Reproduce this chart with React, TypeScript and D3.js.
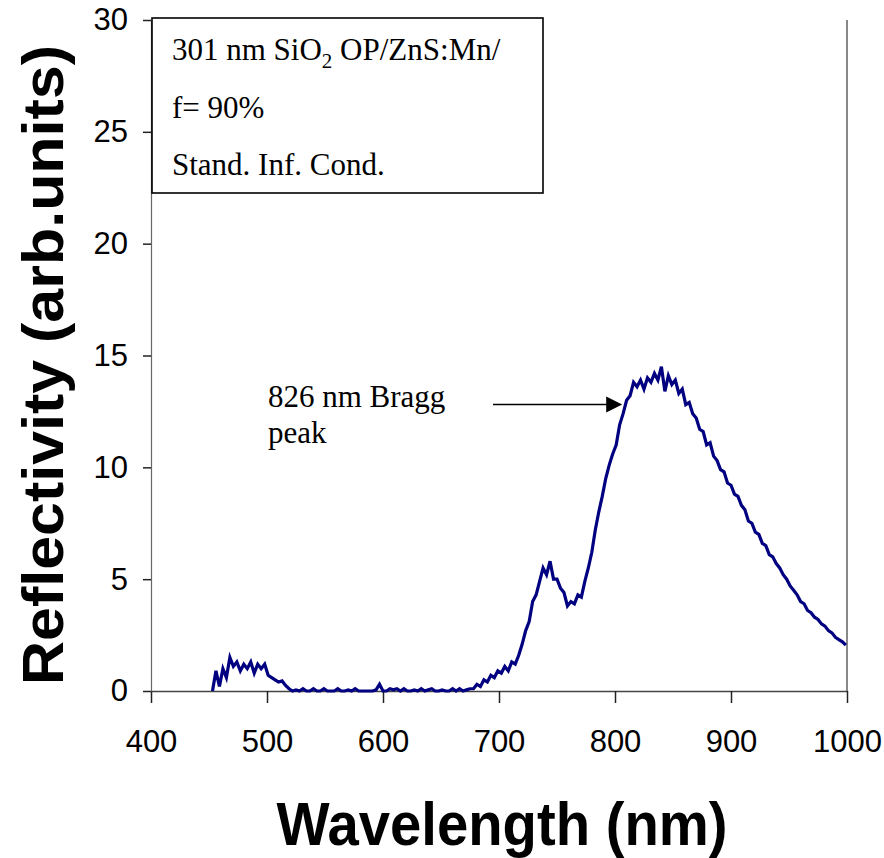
import { useEffect, useRef } from 'react';
import * as d3 from 'd3';

// reflectivity, one value every 3 nm starting at 453 nm
const startNm = 453;
const stepNm = 3;
const reflectivity = [
  0.0, 0.9, 0.2, 1.0, 0.6, 1.5, 1.1, 1.3, 0.9, 1.2,
  1.0, 1.3, 0.8, 1.2, 1.0, 1.2, 0.7, 0.6, 0.5, 0.4,
  0.45, 0.25, 0.1, 0.0, 0.05, 0.0, 0.1, 0.0, 0.0, 0.1,
  0.0, 0.0, 0.1, 0.0, 0.0, 0.0, 0.1, 0.0, 0.0, 0.05,
  0.0, 0.1, 0.0, 0.0, 0.0, 0.0, 0.0, 0.05, 0.3, 0.0,
  0.0, 0.1, 0.05, 0.1, 0.0, 0.1, 0.0, 0.0, 0.05, 0.0,
  0.1, 0.0, 0.05, 0.1, 0.0, 0.0, 0.05, 0.0, 0.0, 0.1,
  0.0, 0.1, 0.0, 0.05, 0.1, 0.1, 0.3, 0.2, 0.5, 0.4,
  0.7, 0.6, 0.9, 0.8, 1.1, 0.9, 1.3, 1.2, 1.6, 2.1,
  2.7, 3.1, 4.0, 4.3, 4.9, 5.5, 5.2, 5.8, 5.0, 5.0,
  4.6, 4.4, 3.8, 4.0, 3.9, 4.3, 4.2, 4.9, 5.5, 6.2,
  7.2, 8.0, 8.7, 9.5, 10.1, 10.6, 11.0, 11.9, 12.4, 13.0,
  13.2, 13.8, 13.6, 13.9, 13.5, 14.0, 13.8, 14.2, 13.9, 14.5,
  13.4, 14.1, 13.7, 13.9, 13.3, 13.5, 12.8, 12.9, 12.4, 12.2,
  11.7, 11.6, 11.0, 11.1, 10.5, 10.3, 9.9, 9.8, 9.3, 9.2,
  8.8, 8.7, 8.3, 8.1, 7.6, 7.5, 7.1, 7.0, 6.6, 6.5,
  6.1, 6.0, 5.7, 5.5, 5.2, 5.0, 4.7, 4.5, 4.3, 4.0,
  3.9, 3.6, 3.5, 3.3, 3.2, 3.0, 2.9, 2.7, 2.6, 2.4,
  2.3, 2.2, 2.05,
];

const xTicks = [400, 500, 600, 700, 800, 900, 1000];
const yTicks = [0, 5, 10, 15, 20, 25, 30];
const boxLines = ['f= 90%', 'Stand. Inf. Cond.'];
const peakLabel = ['826 nm Bragg', 'peak'];
const peakNm = 826;

const W = 884;
const H = 858;
const left = 151;
const right = 847;
const top = 20;
const bottom = 691;

const App = () => {
  const gx = useRef<SVGGElement>(null);
  const gy = useRef<SVGGElement>(null);

  const x = d3.scaleLinear().domain([400, 1000]).range([left, right]);
  const y = d3.scaleLinear().domain([0, 30]).range([bottom, top]);

  const points = reflectivity.map((v, i) => [startNm + i * stepNm, v] as [number, number]);
  const line = d3.line<[number, number]>()
    .x(d => x(d[0]))
    .y(d => y(d[1]));

  useEffect(() => {
    const ax = d3.select(gx.current!);
    ax.call(d3.axisBottom(x).tickValues(xTicks).tickFormat(d3.format('d')).tickSize(12).tickSizeOuter(0).tickPadding(27));
    ax.select('.domain').attr('stroke', '#444').attr('stroke-width', 1.5);
    ax.selectAll('.tick line').attr('stroke', '#222').attr('stroke-width', 1.5);
    ax.selectAll('.tick text')
      .attr('font-family', 'Liberation Sans, Arial, sans-serif')
      .attr('font-size', 31)
      .attr('fill', '#000');

    const ay = d3.select(gy.current!);
    ay.call(d3.axisLeft(y).tickValues(yTicks).tickSize(8).tickSizeOuter(0).tickPadding(15));
    ay.select('.domain').attr('stroke', '#666').attr('stroke-width', 1.2);
    ay.selectAll('.tick line').attr('stroke', '#222').attr('stroke-width', 1.5);
    ay.selectAll('.tick text')
      .attr('font-family', 'Liberation Sans, Arial, sans-serif')
      .attr('font-size', 31)
      .attr('fill', '#000');
  }, []);

  const arrowY = 404.5;
  const arrowTip = x(peakNm) - 23;

  return (
    <svg width={W} height={H} style={{ position: 'absolute', left: 0, top: 0, background: '#fff' }}>
      <line x1={right} x2={right} y1={top} y2={bottom} stroke="#888" strokeWidth={2} />
      <g ref={gx} transform={`translate(0,${bottom})`} />
      <g ref={gy} transform={`translate(${left},0)`} />

      <path d={line(points) ?? ''} fill="none" stroke="#000080" strokeWidth={3.2} strokeLinejoin="miter" />

      <rect x={152} y={18} width={391} height={175} fill="#fff" stroke="#000" strokeWidth={1.6} />
      <g fontFamily="Liberation Serif, Times New Roman, serif" fontSize={31} fill="#000">
        <text x={172} y={60}>
          301 nm SiO<tspan dy={8} fontSize={21}>2</tspan><tspan dy={-8}> OP/ZnS:Mn/</tspan>
        </text>
        {boxLines.map((t, i) => (
          <text key={t} x={172} y={118 + i * 57}>{t}</text>
        ))}
        {peakLabel.map((t, i) => (
          <text key={t} x={268} y={407 + i * 36}>{t}</text>
        ))}
      </g>

      <line x1={493} x2={arrowTip - 14} y1={arrowY} y2={arrowY} stroke="#000" strokeWidth={1.6} />
      <path d={`M${arrowTip},${arrowY} L${arrowTip - 16},${arrowY - 8} L${arrowTip - 16},${arrowY + 8} Z`} fill="#000" />

      <text
        x={502}
        y={845}
        textAnchor="middle"
        fontFamily="Liberation Sans, Arial, sans-serif"
        fontWeight="bold"
        fontSize={61}
        textLength={451}
        lengthAdjust="spacingAndGlyphs"
      >
        Wavelength (nm)
      </text>
      <text
        transform="translate(63,365) rotate(-90)"
        textAnchor="middle"
        fontFamily="Liberation Sans, Arial, sans-serif"
        fontWeight="bold"
        fontSize={58}
        textLength={640}
        lengthAdjust="spacingAndGlyphs"
      >
        Reflectivity (arb.units)
      </text>
    </svg>
  );
};

export default App;
